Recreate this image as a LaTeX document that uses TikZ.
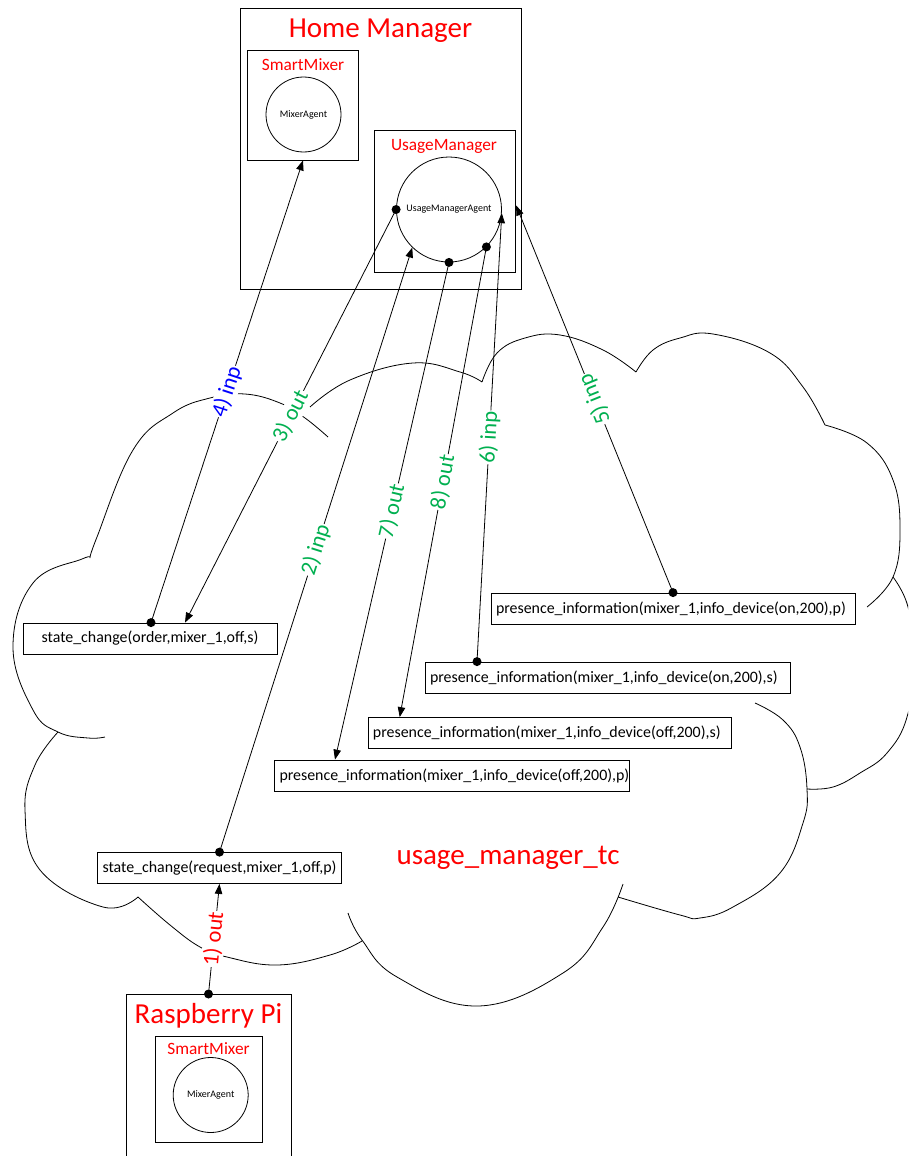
\documentclass[tikz,border=0pt]{standalone}
\usepackage{fontspec}
\setmainfont{Carlito}
\usetikzlibrary{arrows.meta,positioning}
\definecolor{tcred}{RGB}{255,0,0}
\definecolor{tcgreen}{RGB}{0,176,80}
\definecolor{tcblue}{RGB}{0,0,255}

\begin{document}
\begin{tikzpicture}[x=1pt,y=-1pt,
  box/.style={draw,line width=0.8pt,inner sep=0pt},
  agent/.style={draw,circle,line width=0.8pt,inner sep=0pt,font=\fontsize{10}{12}\selectfont},
  msg/.style={draw,line width=0.8pt,minimum height=31pt,inner xsep=5pt,inner ysep=1pt,font=\fontsize{15.9}{18}\selectfont},
  msgl/.style={msg,align=left},
  title/.style={text=tcred,font=\fontsize{29}{34}\selectfont},
  subtitle/.style={text=tcred,font=\fontsize{17.3}{20}\selectfont},
  conn/.style={line width=0.8pt,-{Triangle[length=10pt,width=7.5pt]}},
  lbl/.style={sloped,fill=white,inner sep=1pt,pos=0.5,font=\fontsize{22.5}{26}\selectfont}]
\useasboundingbox (0,0) rectangle (908,1156);
\clip (0,0) rectangle (908,1156);

% The cloud of the tuple centre
\draw[line width=0.8pt,smooth,tension=0.7]
  plot coordinates {(90,558) (97,537) (133,450) (173,413) (210,398) (245,394) (280,403) (305,418) (328,437)}
  plot coordinates {(310,407) (350,380) (413,363) (460,372) (482,382)}
  plot coordinates {(482,382) (497,353) (525,338) (560,335) (603,350) (636,372)}
  plot coordinates {(636,372) (653,350) (680,338) (713,334) (770,353) (803,387) (825,425)}
  plot coordinates {(825,425) (867,443) (893,480) (900,530) (893,577) (867,607)}
  plot coordinates {(893,577) (908,607) (914,660) (907,717) (887,753) (860,773) (833,787) (807,789)}
  plot coordinates {(755,703) (783,720) (800,747) (807,789) (803,823) (780,873) (733,907) (700,918) (680,915) (618,897)}
  plot coordinates {(348,913) (362,940) (397,977) (478,1006) (563,973) (603,927) (623,884)}
  plot coordinates {(138,897) (170,925) (200,947) (227,957) (277,965) (330,955) (362,941)}
  plot coordinates {(58,732) (35,765) (25,810) (40,870) (103,907) (138,897)}
  plot coordinates {(90,558) (82,559) (33,583) (13,647) (33,710) (58,732) (88,738) (105,737)};
\node[title] (tc) at (508,858) {usage\_manager\_tc};

% Home Manager
\node[box,minimum width=281.7pt,minimum height=280.7pt] (hm) at (380.9,148.7) {};
\node[title] at (380.5,31) {Home Manager};
\node[box,minimum width=110.6pt,minimum height=110pt] (smt) at (303,105) {};
\node[subtitle] at (303,65) {SmartMixer};
\node[agent,minimum size=75pt] (mat) at (303.5,114.5) {MixerAgent};
\node[box,minimum width=141.7pt,minimum height=141.6pt] (umb) at (444.9,201.5) {};
\node[subtitle] at (444,146) {UsageManager};
\node[agent,minimum size=105pt] (uma) at (449,209.5) {UsageManagerAgent};

% Raspberry Pi
\node[box,anchor=north,minimum width=165pt,minimum height=190pt] (rpi) at (208.5,994) {};
\node[title] at (208.5,1016) {Raspberry Pi};
\node[box,minimum width=107pt,minimum height=106pt] (smb) at (208.5,1089) {};
\node[subtitle] at (208.5,1049) {SmartMixer};
\node[agent,minimum size=75pt] (mab) at (210.7,1095) {MixerAgent};

% Tuples
\node[msg,minimum width=254pt] (ord) at (150,638.5) {state\_change(order,mixer\_1,off,s)};
\node[msg,minimum width=243pt] (req) at (219.5,868) {state\_change(request,mixer\_1,off,p)};
\node[msgl,text width=354pt] (onp) at (673,608.5) {presence\_information(mixer\_1,info\_device(on,200),p)};
\node[msgl,text width=355pt] (ons) at (607.5,677.5) {presence\_information(mixer\_1,info\_device(on,200),s)};
\node[msgl,text width=353.5pt] (offs) at (549.7,733) {presence\_information(mixer\_1,info\_device(off,200),s)};
\node[msgl,text width=345pt] (offp) at (452,775.5) {presence\_information(mixer\_1,info\_device(off,200),p)};

% Start points of the operations
\coordinate (s1) at (rpi.north);
\coordinate (s2) at (req.north);
\coordinate (s3) at (uma.west);
\coordinate (s4) at ([xshift=1pt]ord.north);
\coordinate (s5) at (onp.north);
\coordinate (s6) at ([xshift=-130.5pt]ons.north);
\coordinate (s7) at (uma.south);
\coordinate (s8) at (uma.-45);

% Operations
\draw[conn] (s1) -- (req.south) node[lbl,text=tcred] {1) out};
\draw[conn] (s2) -- (uma.-134) node[lbl,text=tcgreen] {2) inp};
\draw[conn] (s3) -- ([xshift=35pt]ord.north) node[lbl,text=tcgreen] {3) out};
\draw[conn] (s4) -- (smt.south) node[lbl,text=tcblue] {4) inp};
\draw[conn] (s5) -- ([yshift=-4pt]umb.east) node[lbl,allow upside down,text=tcgreen] {5) inp};
\draw[conn] (s6) -- (uma.-4) node[lbl,text=tcgreen] {6) inp};
\draw[conn] (s7) -- ([xshift=-117pt]offp.north) node[lbl,text=tcgreen] {7) out};
\draw[conn] (s8) -- ([xshift=-150pt]offs.north) node[lbl,text=tcgreen] {8) out};

\foreach \s in {1,...,8}
  \fill (s\s) circle (4.5pt);
\end{tikzpicture}
\end{document}
